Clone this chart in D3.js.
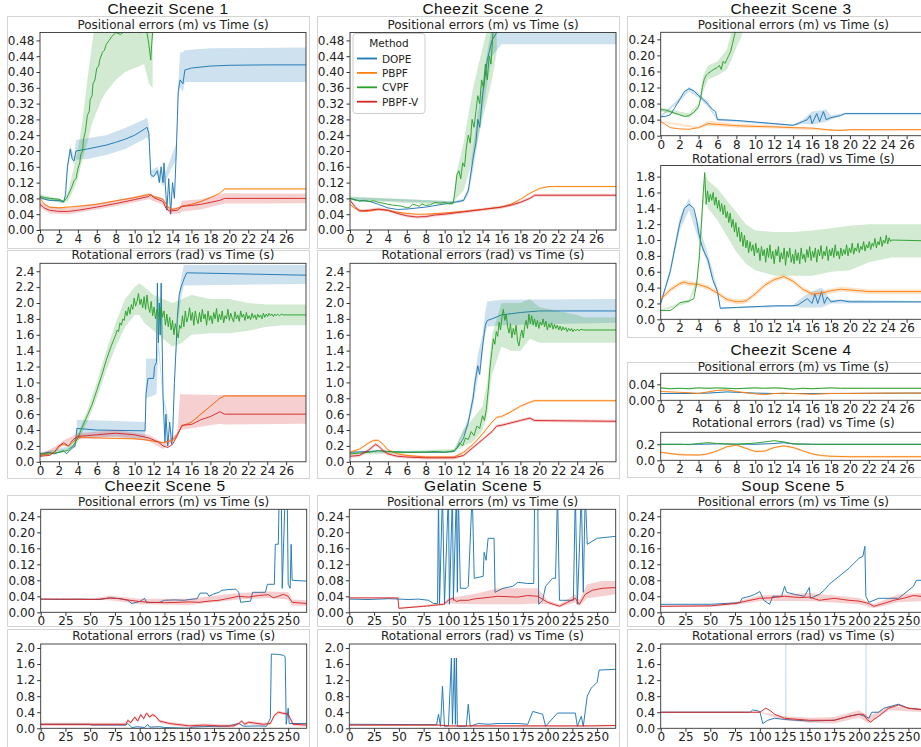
<!DOCTYPE html>
<html>
<head>
<meta charset="utf-8">
<script src="https://cdn.jsdelivr.net/npm/d3@7"></script>
<style>
  body { margin: 0; background: #fff; }
  svg { display: block; }
  .tick text { font-family: "DejaVu Sans", sans-serif; font-size: 12px; fill: #222; }
  .tick line { stroke: #333; }
  .domain { display: none; }
  .title { font-family: "Liberation Sans", Arial, sans-serif; font-size: 15.5px; letter-spacing: 0.5px; fill: #111; }
  .sub { font-family: "DejaVu Sans", sans-serif; font-size: 12px; fill: #222; }
  .leg { font-family: "DejaVu Sans", sans-serif; font-size: 10.5px; fill: #222; }
</style>
</head>
<body>
<div id="chart"></div>
<script>
/**
 * CONSTANTS
 * */
const width = 921, height = 747;
const methods = ["DOPE", "PBPF", "CVPF", "PBPF-V"];
const methodColors = ["#1f77b4", "#ff7f0e", "#2ca02c", "#d62728"];

// tick labels
const xTicksShort = [0, 2, 4, 6, 8, 10, 12, 14, 16, 18, 20, 22, 24, 26];
const xTicksLong = [0, 25, 50, 75, 100, 125, 150, 175, 200, 225, 250];
const posTicks48 = [0, 0.04, 0.08, 0.12, 0.16, 0.2, 0.24, 0.28, 0.32, 0.36, 0.4, 0.44, 0.48];
const posTicks24 = [0, 0.04, 0.08, 0.12, 0.16, 0.2, 0.24];
const posTicks04 = [0, 0.04];
const rotTicks24 = [0, 0.2, 0.4, 0.6, 0.8, 1.0, 1.2, 1.4, 1.6, 1.8, 2.0, 2.2, 2.4];
const rotTicks18 = [0, 0.2, 0.4, 0.6, 0.8, 1.0, 1.2, 1.4, 1.6, 1.8];
const rotTicks02 = [0, 0.2];
const rotTicks20 = [0, 0.4, 0.8, 1.2, 1.6, 2.0];

/**
 * DATA  (line: [time, mean], band: [time, low, high] or a half width)
 * */
// ---- Cheezit Scene 1, position
const s1PosDope = [[0,.082],[0.5,.078],[1,.075],[2,.075],[2.5,.071],[2.7,.09],[2.9,.16],[3.2,.205],[3.4,.18],[3.6,.175],[3.8,.2],[5,.205],[7,.215],[8,.222],[9,.23],[10,.24],[11,.255],[11.3,.26],[11.5,.245],[11.7,.14],[12,.135],[12.4,.15],[12.6,.12],[12.8,.16],[13,.12],[13.1,.17],[13.3,.09],[13.4,.05],[13.6,.13],[13.8,.04],[14,.12],[14.2,.08],[14.4,.2],[14.6,.35],[14.8,.38],[15.1,.37],[15.3,.405],[16,.41],[18,.415],[20,.417],[24,.418],[28.1,.418]];
const s1PosDopeBand = [[0,.078,.086],[2.5,.068,.075],[2.9,.15,.17],[3.2,.19,.215],[3.6,.165,.185],[3.8,.178,.228],[5,.18,.232],[7,.19,.24],[9,.205,.258],[11,.23,.28],[11.3,.235,.285],[11.5,.225,.265],[11.7,.13,.15],[12.4,.14,.16],[13,.11,.13],[14.4,.18,.22],[14.6,.33,.37],[14.8,.36,.45],[15.1,.35,.45],[15.3,.375,.455],[18,.375,.46],[28.1,.375,.462]];
const s1PosPbpf = [[0,.08],[0.5,.065],[1,.058],[2,.056],[3,.058],[4,.06],[6,.065],[8,.074],[10,.082],[11.5,.09],[12,.085],[13,.078],[13.5,.058],[14,.052],[14.5,.055],[15,.06],[16,.065],[17,.072],[18,.082],[19,.093],[19.5,.104],[28.1,.104]];
const s1PosCvpf = [[0,.085],[0.5,.082],[1,.08],[1.5,.079],[2,.078],[2.5,.072],[2.8,.08],[3,.09],[3.3,.105],[3.6,.125],[3.8,.13],[4,.155],[4.2,.17],[4.3,.19],[4.5,.2],[4.6,.23],[4.8,.25],[5,.29],[5.2,.3],[5.3,.33],[5.5,.34],[5.6,.37],[5.8,.38],[6,.41],[6.2,.415],[6.3,.43],[6.6,.45],[6.8,.455],[7,.47],[7.3,.48],[7.6,.49],[8,.5],[8.5,.495],[9,.505],[9.5,.5],[10,.51],[10.5,.5],[11,.505],[11.3,.5],[11.5,.47],[11.7,.43],[11.8,.47],[11.9,.5]];
const s1PosCvpfBand = [[0,.08,.09],[2.5,.068,.076],[3,.075,.1],[3.5,.1,.15],[4,.13,.2],[4.5,.18,.28],[5,.22,.38],[5.5,.27,.47],[6,.3,.55],[6.5,.33,.6],[7,.35,.62],[8,.38,.62],[9,.4,.62],[10,.41,.62],[11,.42,.62],[11.5,.37,.6],[11.9,.36,.6]];
const s1PosPbpfv = [[0,.065],[0.5,.055],[1,.05],[2,.047],[3,.047],[4,.05],[6,.058],[8,.067],[10,.077],[11.5,.085],[11.7,.09],[12,.082],[13,.072],[13.3,.055],[13.7,.048],[14.5,.05],[15,.06],[16,.062],[17,.065],[18,.07],[19,.075],[19.5,.08],[28.1,.08]];
const s1PosPbpfvBand = [[0,.057,.073],[1,.042,.058],[3,.04,.055],[8,.06,.075],[11.5,.078,.093],[13,.064,.08],[13.7,.04,.056],[14.8,.042,.058],[15,.047,.074],[17,.052,.078],[19.5,.067,.093],[28.1,.068,.092]];

// ---- Cheezit Scene 1, rotation
const s1RotDope = [[0,.1],[1,.12],[1.5,.1],[2,.12],[2.5,.14],[2.8,.1],[3.2,.15],[3.7,.2],[3.9,.42],[6,.4],[11.1,.39],[11.2,.85],[11.4,1.05],[12,1.05],[12.1,1.2],[12.3,1.25],[12.4,2.25],[12.5,1.5],[12.6,2.0],[12.7,1.6],[12.8,2.25],[13,.8],[13.2,.25],[13.3,.6],[13.5,.2],[13.7,.5],[13.9,.22],[14,.3],[14.2,1.0],[14.4,1.5],[14.5,1.8],[14.7,2.1],[14.9,2.2],[15.2,2.3],[15.5,2.38],[20,2.37],[28.1,2.35]];
const s1RotDopeBand = [[0,.09,.11],[3.8,.18,.22],[3.9,.32,.53],[11.1,.3,.5],[11.2,.8,1.3],[12.3,.85,1.3],[12.5,1.4,1.6],[13,.75,.85],[14,.28,.32],[14.5,1.7,1.9],[14.9,2.05,2.3],[15.2,2.22,2.48],[28.1,2.24,2.48]];
const s1RotPbpf = [[0,.08],[1,.1],[1.5,.12],[2,.18],[2.3,.22],[3,.2],[3.5,.25],[4,.3],[4.5,.31],[6,.3],[10,.29],[11,.28],[12,.26],[13,.24],[14,.27],[14.5,.35],[15,.45],[16,.5],[17,.6],[18,.7],[19,.8],[19.5,.83],[28.1,.83]];
const s1RotCvpf = [[0,.1],[1,.1],[2,.12],[2.5,.13],[3,.15],[3.5,.2],[4,.3],[4.5,.45],[5,.58],[5.5,.72],[6,.9],[6.5,1.08],[7,1.28],[7.5,1.45],[8,1.6],[8.15,1.66],[8.3,1.64],[8.45,1.75],[8.6,1.72],[8.75,1.8],[8.9,1.78],[9.05,1.9],[9.2,1.84],[9.35,1.95],[9.5,1.86],[9.65,1.98],[9.8,1.92],[9.95,2.06],[10.1,1.96],[10.25,2.02],[10.4,2.12],[10.55,1.98],[10.7,2.05],[10.85,1.94],[11,2.08],[11.15,1.92],[11.3,2.1],[11.45,1.95],[11.6,1.88],[11.75,2.02],[11.9,1.84],[12.05,1.95],[12.2,1.8],[12.35,1.92],[12.5,1.86],[12.65,1.78],[12.8,1.94],[12.95,1.82],[13.1,1.9],[13.25,1.72],[13.4,1.86],[13.55,1.7],[13.7,1.82],[13.85,1.66],[14,1.78],[14.15,1.6],[14.3,1.74],[14.45,1.64],[14.6,1.56],[14.75,1.72],[14.9,1.68],[15.05,1.84],[15.2,1.7],[15.35,1.9],[15.5,1.76],[15.65,1.82],[15.8,1.94],[15.95,1.78],[16.1,1.88],[16.25,1.72],[16.4,1.9],[16.55,1.8],[16.7,1.74],[16.85,1.88],[17,1.76],[17.15,1.92],[17.3,1.8],[17.45,1.86],[17.6,1.72],[17.75,1.9],[17.9,1.78],[18.05,1.84],[18.2,1.74],[18.35,1.88],[18.5,1.8],[18.65,1.93],[18.8,1.76],[18.95,1.86],[19.1,1.79],[19.25,1.9],[19.4,1.75],[19.55,1.84],[19.7,1.8],[19.85,1.92],[20,1.78],[20.15,1.87],[20.3,1.81],[20.45,1.76],[20.6,1.89],[20.75,1.8],[20.9,1.85],[21.05,1.77],[21.2,1.9],[21.35,1.82],[21.5,1.86],[21.65,1.78],[21.8,1.88],[21.95,1.8],[22.1,1.84],[22.25,1.79],[22.4,1.87],[22.55,1.81],[22.7,1.85],[22.85,1.79],[23,1.86],[23.15,1.82],[23.3,1.85],[23.45,1.8],[23.6,1.87],[23.75,1.82],[23.9,1.86],[24.05,1.83],[24.2,1.87],[24.35,1.84],[24.5,1.86],[24.65,1.83],[24.8,1.86],[24.95,1.84],[25.1,1.86],[25.3,1.84],[25.5,1.86],[25.7,1.85],[28.1,1.85]];
const s1RotCvpfBand = [[0,.08,.12],[3,.13,.17],[4,.25,.35],[5,.5,.65],[6,.8,1.0],[7,1.15,1.4],[8,1.45,1.75],[9,1.7,2.05],[10,1.85,2.2],[10.5,1.85,2.25],[11,1.75,2.2],[12,1.65,2.1],[13,1.55,2.05],[14,1.45,2.0],[15,1.5,2.05],[16,1.6,2.1],[18,1.62,2.05],[20,1.62,2.05],[22,1.65,2.0],[24,1.7,1.98],[25.7,1.72,1.98],[28.1,1.72,1.98]];
const s1RotPbpfv = [[0,.07],[1,.08],[1.5,.12],[2,.2],[2.5,.24],[3,.2],[3.5,.28],[4,.32],[5,.33],[6,.34],[8,.36],[10,.34],[11.5,.3],[12.5,.25],[13,.2],[13.5,.18],[14,.22],[14.5,.33],[15,.46],[16,.47],[17,.53],[18,.57],[19,.63],[19.5,.6],[28.1,.6]];
const s1RotPbpfvBand = [[0,.05,.09],[2,.18,.22],[2.5,.21,.27],[4,.28,.36],[8,.32,.4],[11.5,.26,.34],[13,.16,.24],[14.5,.3,.36],[14.8,.4,.85],[19,.48,.84],[19.5,.47,.84],[28.1,.48,.84]];

// ---- Cheezit Scene 2, position
const s2PosDope = [[0,.08],[1,.074],[2,.073],[3,.065],[4,.056],[5,.052],[6,.053],[8,.058],[10,.066],[11,.07],[12,.075],[12.5,.1],[13,.18],[13.3,.22],[13.5,.28],[13.7,.26],[14,.34],[14.5,.43],[15,.48],[15.5,.5],[16,.52],[17,.53],[28.1,.53]];
const s2PosDopeBand = [[0,.077,.083],[11,.067,.073],[12,.07,.08],[12.5,.09,.11],[13,.15,.21],[14,.3,.38],[15,.44,.52],[16,.47,.6],[28.1,.47,.6]];
const s2PosPbpf = [[0,.065],[0.5,.055],[1,.05],[1.5,.047],[2,.048],[3,.052],[4,.05],[5,.045],[6,.042],[7,.04],[8,.04],[10,.043],[12,.047],[14,.052],[16,.058],[17,.065],[18,.078],[19,.093],[20,.105],[21,.11],[28.1,.11]];
const s2PosCvpf = [[0,.08],[0.5,.076],[1,.073],[1.5,.075],[2,.072],[2.5,.074],[3,.07],[3.5,.068],[4,.065],[4.5,.063],[5,.062],[5.5,.06],[6,.056],[6.3,.058],[6.6,.065],[7,.063],[7.3,.06],[7.6,.066],[8,.062],[8.5,.064],[9,.07],[9.5,.068],[10,.07],[10.5,.066],[10.9,.068],[11.1,.1],[11.3,.14],[11.5,.15],[11.7,.13],[11.9,.17],[12.1,.16],[12.3,.21],[12.5,.24],[12.7,.22],[12.9,.28],[13.1,.26],[13.3,.3],[13.5,.34],[13.7,.32],[13.9,.38],[14.1,.36],[14.3,.42],[14.5,.38],[14.7,.44],[14.9,.42],[15.1,.5],[15.3,.52],[15.5,.56]];
const s2PosCvpfBand = [[0,.075,.085],[10.9,.063,.073],[11.2,.08,.14],[12,.1,.22],[13,.18,.36],[14,.28,.46],[15,.38,.56],[15.5,.45,.6]];
const s2PosPbpfv = [[0,.075],[0.5,.06],[1,.048],[2,.05],[3,.053],[4,.05],[5,.042],[6,.036],[7,.033],[8,.034],[9,.038],[10,.04],[12,.046],[14,.052],[16,.058],[17,.063],[18,.07],[19,.08],[19.5,.088],[28.1,.088]];

// ---- Cheezit Scene 2, rotation
const s2RotDope = [[0,.12],[2,.13],[3,.14],[4,.13],[6,.12],[8,.12],[10,.12],[11,.13],[11.5,.2],[12,.3],[12.5,.5],[13,.8],[13.2,1.0],[13.5,1.21],[13.7,1.1],[14,1.45],[14.3,1.72],[14.5,1.78],[15,1.8],[16,1.85],[18,1.88],[20,1.9],[28.1,1.9]];
const s2RotDopeBand = [[0,.11,.13],[11,.12,.14],[12.5,.45,.55],[13,.7,.9],[13.5,1.05,1.35],[14,1.35,1.6],[14.3,1.62,1.9],[14.5,1.7,2.02],[16,1.72,2.04],[28.1,1.75,2.05]];
const s2RotPbpf = [[0,.12],[1,.16],[2,.24],[2.5,.27],[3,.27],[3.5,.22],[4,.15],[5,.1],[6,.08],[8,.06],[10,.06],[11,.06],[12,.12],[13,.22],[14,.35],[15,.5],[15.5,.56],[16,.57],[17,.63],[18,.7],[19,.75],[19.5,.77],[28.1,.77]];
const s2RotCvpf = [[0,.1],[1,.11],[2,.12],[3,.14],[4,.13],[5,.12],[6,.12],[7,.12],[8,.12],[9,.13],[10,.12],[11,.14],[11.3,.18],[11.6,.24],[11.9,.2],[12.2,.3],[12.5,.28],[12.8,.38],[13.1,.33],[13.4,.45],[13.7,.42],[14,.58],[14.2,.52],[14.4,.66],[14.6,.9],[14.8,1.2],[15,1.4],[15.15,1.55],[15.3,1.48],[15.45,1.64],[15.6,1.58],[15.75,1.76],[15.9,1.66],[16.05,1.82],[16.2,1.92],[16.35,1.78],[16.5,1.86],[16.65,1.7],[16.8,1.62],[16.95,1.74],[17.1,1.56],[17.25,1.68],[17.4,1.6],[17.55,1.72],[17.7,1.52],[17.85,1.46],[18,1.58],[18.15,1.66],[18.3,1.56],[18.45,1.7],[18.6,1.78],[18.75,1.68],[18.9,1.86],[19.05,1.74],[19.2,1.84],[19.35,1.72],[19.5,1.8],[19.65,1.7],[19.8,1.78],[19.95,1.68],[20.1,1.76],[20.25,1.72],[20.4,1.8],[20.55,1.7],[20.7,1.77],[20.85,1.66],[21,1.74],[21.15,1.69],[21.3,1.75],[21.45,1.67],[21.6,1.73],[21.75,1.68],[21.9,1.72],[22.05,1.66],[22.2,1.71],[22.35,1.65],[22.5,1.7],[22.65,1.66],[22.8,1.69],[22.95,1.64],[23.1,1.68],[23.25,1.65],[23.4,1.68],[23.55,1.64],[23.7,1.67],[23.85,1.65],[24,1.67],[24.2,1.65],[24.4,1.67],[24.7,1.66],[28.1,1.66]];
const s2RotCvpfBand = [[0,.09,.11],[11,.12,.16],[12,.2,.4],[13,.25,.55],[14,.4,.7],[14.5,.6,1.0],[15,1.1,1.6],[16,1.45,2.0],[17,1.4,2.0],[18,1.4,2.0],[19,1.55,2.05],[20,1.5,1.95],[22,1.5,1.9],[24,1.5,1.85],[24.7,1.5,1.82],[28.1,1.5,1.82]];
const s2RotPbpfv = [[0,.07],[1,.08],[2,.15],[2.7,.22],[3,.2],[3.5,.14],[4,.1],[5,.07],[6,.06],[8,.05],[10,.05],[11,.05],[12,.08],[13,.18],[14,.28],[15,.38],[15.5,.45],[16,.46],[17,.49],[18,.52],[19,.55],[19.5,.52],[28.1,.51]];

// ---- Cheezit Scene 3, position
const s3PosDope = [[0,.047],[0.5,.048],[1,.052],[1.5,.07],[2,.09],[2.5,.11],[3,.117],[3.5,.112],[4,.1],[4.5,.09],[5,.078],[5.5,.065],[5.8,.06],[6,.04],[8,.038],[10,.034],[12,.03],[14,.026],[14.5,.03],[15,.035],[15.5,.04],[15.8,.05],[16,.03],[16.5,.055],[16.8,.035],[17.2,.06],[17.5,.04],[18,.045],[19,.05],[19.5,.055],[28.1,.055]];
const s3PosDopeBand = [[0,.045,.05],[2,.085,.095],[3,.11,.122],[4,.094,.106],[5,.072,.085],[6,.037,.043],[14,.024,.028],[15,.03,.04],[16,.028,.06],[17.5,.035,.065],[18,.04,.05],[19.5,.053,.057],[28.1,.053,.057]];
const s3PosPbpf = [[0,.035],[0.5,.028],[1,.02],[2,.017],[3,.016],[4,.02],[5,.03],[6,.028],[8,.025],[10,.023],[12,.022],[14,.02],[16,.019],[18,.014],[19,.013],[20,.015],[28.1,.015]];
const s3PosPbpfBand = [[0,.033,.037],[4,.017,.023],[5,.025,.037],[8,.02,.03],[12,.018,.026],[18,.012,.016],[28.1,.013,.017]];
const s3PosCvpf = [[0,.065],[0.5,.064],[1,.06],[1.5,.056],[2,.052],[2.5,.048],[3,.05],[3.5,.058],[4,.072],[4.2,.09],[4.4,.12],[4.6,.14],[4.8,.15],[5,.155],[5.3,.16],[5.6,.165],[6,.17],[6.2,.175],[6.4,.165],[6.6,.185],[6.8,.18],[7,.19],[7.2,.2],[7.4,.21],[7.6,.23],[7.8,.25],[8,.27]];
const s3PosCvpfBand = [[0,.06,.07],[3,.045,.055],[4,.065,.08],[4.5,.11,.15],[5,.14,.175],[6,.15,.185],[7,.165,.215],[7.5,.19,.26],[8,.22,.3],[8.6,.25,.33]];

// ---- Cheezit Scene 3, rotation
const s3RotDope = [[0,.2],[0.5,.4],[1,.6],[1.5,.9],[2,1.2],[2.5,1.4],[3,1.45],[3.5,1.4],[3.8,1.25],[4,1.1],[4.3,.95],[4.6,.85],[5,.75],[5.5,.5],[6,.35],[6.3,.14],[8,.15],[10,.16],[12,.17],[14,.17],[14.5,.18],[15,.22],[15.5,.26],[16,.2],[16.3,.32],[16.6,.2],[17,.35],[17.3,.2],[17.6,.28],[18,.22],[19,.24],[20,.22],[28.1,.22]];
const s3RotDopeBand = [[0,.18,.22],[1,.55,.65],[2,1.12,1.28],[3,1.38,1.53],[4,1.0,1.2],[5,.68,.82],[6,.3,.4],[6.3,.13,.15],[14,.16,.18],[15,.15,.28],[16,.15,.35],[17,.15,.4],[18,.2,.25],[28.1,.21,.23]];
const s3RotPbpf = [[0,.25],[1,.37],[2,.45],[2.5,.47],[3,.45],[4,.44],[5,.4],[6,.33],[7,.25],[8,.22],[9,.23],[10,.32],[11,.43],[12,.5],[13,.54],[14,.48],[15,.38],[16,.32],[17,.33],[18,.36],[19,.38],[20,.37],[22,.35],[28.1,.35]];
const s3RotCvpf = [[0,.11],[1,.11],[1.5,.15],[2,.21],[2.5,.22],[3,.23],[3.5,.26],[3.8,.45],[4.1,.8],[4.3,1.2],[4.5,1.6],[4.65,1.85],[4.8,1.45],[4.95,1.62],[5.1,1.48],[5.25,1.58],[5.4,1.5],[5.55,1.6],[5.7,1.44],[5.85,1.54],[6,1.4],[6.15,1.5],[6.3,1.36],[6.45,1.46],[6.6,1.32],[6.75,1.44],[6.9,1.28],[7.05,1.36],[7.2,1.22],[7.35,1.34],[7.5,1.16],[7.65,1.26],[7.8,1.1],[7.95,1.22],[8.1,1.04],[8.25,1.16],[8.4,.98],[8.55,1.1],[8.7,.92],[8.85,1.06],[9,.9],[9.15,1.0],[9.3,.84],[9.45,.98],[9.6,.86],[9.75,.94],[9.9,.8],[10.05,.96],[10.2,.84],[10.35,.9],[10.5,.74],[10.65,.92],[10.8,.8],[10.95,.88],[11.1,.72],[11.25,.9],[11.4,.78],[11.55,.94],[11.7,.76],[11.85,.86],[12,.7],[12.15,.88],[12.3,.8],[12.45,.92],[12.6,.72],[12.75,.84],[12.9,.76],[13.05,.9],[13.2,.68],[13.35,.86],[13.5,.78],[13.65,.9],[13.8,.72],[13.95,.82],[14.1,.7],[14.25,.88],[14.4,.74],[14.55,.84],[14.7,.7],[14.85,.9],[15,.76],[15.15,.82],[15.3,.72],[15.45,.88],[15.6,.78],[15.75,.92],[15.9,.74],[16.05,.86],[16.2,.78],[16.35,.9],[16.5,.72],[16.65,.88],[16.8,.8],[16.95,.93],[17.1,.76],[17.25,.86],[17.4,.8],[17.55,.92],[17.7,.74],[17.85,.88],[18,.8],[18.15,.9],[18.3,.78],[18.45,.94],[18.6,.8],[18.75,.86],[18.9,.76],[19.05,.9],[19.2,.8],[19.35,.88],[19.5,.82],[19.65,.94],[19.8,.8],[19.95,.9],[20.1,.84],[20.25,.96],[20.4,.82],[20.55,.9],[20.7,.86],[20.85,.96],[21,.84],[21.15,.92],[21.3,.88],[21.45,.98],[21.6,.86],[21.75,.94],[21.9,.9],[22.05,.98],[22.2,.88],[22.35,.96],[22.5,.92],[22.65,1.02],[22.8,.9],[22.95,.98],[23.1,.94],[23.25,1.04],[23.4,.92],[23.55,1.0],[23.7,.96],[23.85,1.06],[24,.95],[24.15,1.03],[24.3,.98],[24.4,1.0],[28.1,.99]];
const s3RotCvpfBand = [[0,.1,.12],[3,.21,.25],[3.8,.4,.5],[4.3,1.1,1.3],[4.65,1.6,1.85],[5,1.4,1.75],[6,1.25,1.65],[7,1.05,1.5],[8,.85,1.35],[9,.7,1.2],[10,.62,1.12],[12,.55,1.1],[14,.55,1.1],[16,.55,1.12],[18,.6,1.15],[20,.62,1.18],[22,.72,1.2],[24.4,.78,1.2],[28.1,.78,1.2]];

// ---- Cheezit Scene 4
const s4PosDope = [[0,.017],[3,.017],[5,.018],[7,.021],[8,.02],[10,.018],[12,.017],[16,.017],[28.1,.018]];
const s4PosPbpf = [[0,.022],[1,.021],[2,.02],[3,.019],[4,.017],[5,.021],[6,.025],[7,.026],[8,.022],[9,.019],[10,.016],[11,.014],[12,.017],[13,.018],[14,.017],[15,.016],[16,.015],[17,.016],[18,.017],[20,.017],[24,.018],[28.1,.018]];
const s4PosCvpf = [[0,.031],[1,.029],[2,.03],[3,.029],[4,.031],[5,.03],[6,.031],[7,.03],[8,.029],[9,.03],[10,.031],[11,.03],[12,.031],[13,.03],[14,.028],[15,.03],[16,.029],[17,.03],[18,.031],[19,.03],[20,.03],[22,.03],[28.1,.03]];
const s4RotDope = [[0,.2],[4,.2],[6,.205],[10,.2],[12,.21],[13,.22],[14,.205],[16,.2],[28.1,.2]];
const s4RotPbpf = [[0,.1],[1,.085],[2,.07],[4,.065],[5,.08],[6,.12],[7,.17],[8,.19],[9,.15],[10,.11],[11,.115],[12,.16],[13,.18],[14,.16],[15,.12],[16,.08],[17,.06],[18,.05],[20,.045],[28.1,.045]];
const s4RotCvpf = [[0,.2],[2,.2],[3,.195],[4,.21],[5,.22],[6,.21],[8,.2],[10,.215],[12,.245],[13,.23],[14,.205],[16,.2],[28.1,.2]];

// ---- Cheezit Scene 5
const c5PosDope = [[0,.033],[20,.032],[40,.033],[60,.032],[70,.036],[80,.034],[88,.03],[92,.022],[100,.027],[105,.035],[107,.024],[120,.025],[125,.03],[135,.031],[145,.03],[150,.032],[158,.034],[161,.048],[168,.048],[170,.04],[175,.046],[180,.05],[183,.055],[190,.057],[197,.058],[200,.05],[202,.025],[212,.028],[214,.05],[227,.05],[229,.07],[236,.07],[237,.17],[240,.17],[241,.3],[243,.3],[244,.06],[247,.3],[249,.3],[250,.07],[252,.06],[253,.17],[254,.08],[268.7,.078]];
const c5PosPbpfv = [[0,.033],[25,.033],[50,.032],[60,.033],[70,.036],[80,.034],[90,.03],[100,.027],[110,.025],[125,.024],[140,.025],[150,.026],[160,.025],[170,.028],[180,.03],[190,.035],[200,.04],[210,.038],[220,.042],[230,.044],[235,.036],[240,.04],[245,.045],[250,.04],[254,.025],[268.7,.022]];
const c5PosPbpfvBand = [[0,.032,.034],[55,.031,.035],[70,.03,.042],[100,.02,.034],[150,.018,.034],[200,.032,.048],[230,.036,.052],[250,.032,.05],[254,.017,.032],[268.7,.016,.03]];
const c5RotDope = [[0,.1],[50,.1],[51,.08],[86,.08],[88,.12],[92,.02],[98,.04],[105,.02],[108,.1],[110,.03],[120,.04],[125,.02],[150,0],[153,.03],[175,.05],[190,.05],[193,.08],[200,.12],[205,.05],[220,.06],[228,.05],[232,.25],[233,1.85],[240,1.84],[245,1.82],[246.5,1.8],[247,1.75],[248,.1],[250,.5],[251,.12],[268.7,.12]];
const c5RotPbpfv = [[0,.1],[86,.1],[88,.2],[91,.14],[95,.28],[98,.18],[101,.34],[104,.24],[107,.38],[110,.28],[113,.34],[116,.3],[120,.18],[130,.12],[150,.06],[165,.08],[180,.06],[195,.06],[200,.12],[203,.18],[206,.1],[210,.15],[225,.1],[232,.12],[236,.32],[240,.4],[250,.35],[255,.1],[268.7,.08]];

// ---- Gelatin Scene 5
const g5PosDope = [[0,.033],[20,.032],[40,.034],[60,.032],[70,.033],[80,.03],[85,.022],[89,.022],[90,.3],[91,.02],[94,.3],[96,.02],[100,.3],[101,.02],[104,.3],[105,.03],[108,.3],[109,.05],[110,.3],[112,.06],[118,.06],[120,.065],[124,.3],[126,.085],[135,.09],[136,.15],[138,.13],[140,.185],[146,.185],[147,.05],[155,.06],[165,.065],[170,.075],[180,.072],[186,.072],[187,.3],[190,.3],[191,.02],[195,.03],[198,.065],[205,.085],[208,.085],[210,.3],[212,.03],[226,.03],[228,.3],[230,.02],[232,.15],[234,.3],[236,.05],[238,.3],[240,.17],[250,.185],[268.7,.19]];
const g5PosPbpfv = [[0,.036],[49,.036],[50,.01],[75,.015],[95,.02],[100,.03],[104,.035],[108,.027],[112,.03],[120,.03],[125,.033],[150,.04],[170,.038],[180,.042],[190,.04],[200,.025],[212,.015],[220,.025],[228,.035],[232,.02],[238,.045],[245,.055],[255,.06],[268.7,.062]];
const g5PosPbpfvBand = [[0,.035,.037],[49,.035,.037],[50,.008,.012],[95,.017,.023],[100,.022,.036],[125,.02,.045],[150,.02,.06],[175,.02,.06],[190,.022,.06],[200,.02,.03],[212,.012,.02],[228,.025,.045],[232,.015,.03],[240,.035,.07],[255,.04,.078],[268.7,.045,.078]];
const g5RotDope = [[0,.1],[88,.09],[90,.35],[92,.05],[94,1.05],[96,.05],[100,.06],[103,1.75],[104,.1],[106,1.75],[107,.1],[108,1.75],[109,.05],[118,.05],[120,.6],[122,.05],[130,.12],[140,.1],[150,.12],[170,.12],[180,.1],[185,.42],[195,.35],[198,.05],[210,.38],[228,.38],[230,.05],[234,.3],[236,.05],[240,.8],[244,1.0],[250,1.15],[252,1.45],[268.7,1.47]];
const g5RotPbpfv = [[0,.08],[90,.08],[100,.06],[150,.06],[200,.06],[240,.06],[268.7,.07]];

// ---- Soup Scene 5
const p5PosDope = [[0,.02],[50,.02],[80,.024],[82,.035],[90,.04],[95,.045],[100,.052],[104,.03],[110,.02],[113,.04],[122,.04],[125,.065],[127,.05],[135,.045],[145,.04],[150,.062],[151,.035],[160,.045],[165,.055],[170,.07],[180,.09],[190,.11],[200,.135],[204,.14],[206,.165],[207,.04],[210,.025],[220,.035],[240,.035],[245,.045],[255,.065],[258,.08],[268.7,.08]];
const p5PosPbpfv = [[0,.015],[50,.016],[75,.022],[90,.03],[100,.035],[110,.036],[125,.04],[140,.037],[150,.038],[160,.03],[175,.035],[190,.03],[200,.028],[210,.022],[215,.015],[225,.022],[235,.03],[245,.035],[255,.042],[268.7,.038]];
const p5PosPbpfvBand = [[0,.013,.017],[50,.014,.018],[75,.018,.026],[100,.028,.042],[150,.028,.048],[200,.02,.036],[215,.01,.02],[240,.025,.045],[268.7,.028,.048]];
const p5RotDope = [[0,.4],[90,.4],[93,.46],[100,.42],[103,.12],[108,.2],[115,.25],[125,.22],[150,.18],[175,.2],[190,.3],[200,.35],[206,.3],[210,.25],[213,.4],[220,.4],[225,.5],[240,.6],[250,.5],[268.7,.45]];
const p5RotDopeBand = [[0,.4,.4],[125.4,.22,.22],[125.6,.22,2.2],[126.8,.22,2.2],[127,.22,.22],[206.4,.3,.3],[206.6,.3,2.2],[207.8,.3,2.2],[208,.3,.3],[268.7,.45,.45]];
const p5RotPbpfv = [[0,.4],[100,.4],[106,.5],[110,.45],[115,.35],[125,.25],[150,.2],[175,.2],[190,.3],[200,.35],[205,.35],[208,.22],[212,.15],[215,.22],[220,.3],[230,.5],[240,.58],[250,.5],[268.7,.45]];
const p5RotPbpfvBand = [[0,.39,.41],[100,.39,.41],[125,.2,.3],[150,.14,.26],[175,.12,.28],[200,.27,.45],[210,.12,.3],[230,.45,.55],[268.7,.4,.5]];

/**
 * LAYOUT
 * */
const frames = [
  [7, 16, 309, 248], [7, 250, 309, 478], [317, 16, 619, 248], [317, 250, 619, 478],
  [627, 16, 930, 337], [627, 362, 930, 477],
  [7, 495, 309, 626], [7, 629, 309, 760], [317, 495, 619, 626], [317, 629, 619, 760],
  [627, 495, 930, 626], [627, 629, 930, 760]
];
const titles = [
  ["Cheezit Scene 1", 168, 14.3], ["Cheezit Scene 2", 483, 14.3], ["Cheezit Scene 3", 791, 14.3],
  ["Cheezit Scene 4", 791, 354.5], ["Cheezit Scene 5", 165, 491], ["Gelatin Scene 5", 483, 491], ["Soup Scene 5", 793, 491]
];
const POS = "Positional errors (m) vs Time (s)", ROT = "Rotational errors (rad) vs Time (s)";

const panels = [
  { sub: POS, l: 40, r: 306, t: 32.5, b: 230, sy: 29, xMax: 28.1, yMax: 0.5, xt: xTicksShort, yt: posTicks48, f: ".2f",
    series: [["DOPE", s1PosDope, s1PosDopeBand], ["PBPF", s1PosPbpf, 0.002], ["CVPF", s1PosCvpf, s1PosCvpfBand], ["PBPF-V", s1PosPbpfv, s1PosPbpfvBand]] },
  { sub: ROT, l: 40, r: 306, t: 263.3, b: 461.8, sy: 258.8, xMax: 28.1, yMax: 2.5, xt: xTicksShort, yt: rotTicks24, f: ".1f",
    series: [["DOPE", s1RotDope, s1RotDopeBand], ["PBPF", s1RotPbpf, 0.01], ["CVPF", s1RotCvpf, s1RotCvpfBand], ["PBPF-V", s1RotPbpfv, s1RotPbpfvBand]] },
  { sub: POS, l: 350, r: 616, t: 32.5, b: 230, sy: 29, xMax: 28.1, yMax: 0.5, xt: xTicksShort, yt: posTicks48, f: ".2f", legend: true,
    series: [["DOPE", s2PosDope, s2PosDopeBand], ["PBPF", s2PosPbpf, 0.002], ["CVPF", s2PosCvpf, s2PosCvpfBand], ["PBPF-V", s2PosPbpfv, 0.004]] },
  { sub: ROT, l: 350, r: 616, t: 263.3, b: 461.8, sy: 258.8, xMax: 28.1, yMax: 2.5, xt: xTicksShort, yt: rotTicks24, f: ".1f",
    series: [["DOPE", s2RotDope, s2RotDopeBand], ["PBPF", s2RotPbpf, 0.015], ["CVPF", s2RotCvpf, s2RotCvpfBand], ["PBPF-V", s2RotPbpfv, 0.02]] },
  { sub: POS, l: 660.7, r: 926.5, t: 32.3, b: 135.7, sy: 29, xMax: 28.1, yMax: 0.2575, xt: xTicksShort, yt: posTicks24, f: ".2f",
    series: [["DOPE", s3PosDope, s3PosDopeBand], ["PBPF", s3PosPbpf, s3PosPbpfBand], ["CVPF", s3PosCvpf, s3PosCvpfBand]] },
  { sub: ROT, l: 660.7, r: 926.5, t: 165.5, b: 319.3, sy: 162.5, xMax: 28.1, yMax: 1.94, xt: xTicksShort, yt: rotTicks18, f: ".1f",
    series: [["DOPE", s3RotDope, s3RotDopeBand], ["PBPF", s3RotPbpf, 0.03], ["CVPF", s3RotCvpf, s3RotCvpfBand]] },
  { sub: POS, l: 660.7, r: 926.5, t: 373.3, b: 400.3, sy: 370.5, xMax: 28.1, yMax: 0.0675, xt: xTicksShort, yt: posTicks04, f: ".2f",
    series: [["DOPE", s4PosDope, 0.001], ["PBPF", s4PosPbpf, 0.001], ["CVPF", s4PosCvpf, 0.002]] },
  { sub: ROT, l: 660.7, r: 926.5, t: 432.3, b: 460.3, sy: 427, xMax: 28.1, yMax: 0.35, xt: xTicksShort, yt: rotTicks02, f: ".1f",
    series: [["DOPE", s4RotDope, 0.003], ["PBPF", s4RotPbpf, 0.012], ["CVPF", s4RotCvpf, 0.004]] },
  { sub: POS, l: 40.7, r: 306.7, t: 509.3, b: 612.3, sy: 506, xMax: 268.7, yMax: 0.2575, xt: xTicksLong, yt: posTicks24, f: ".2f",
    series: [["DOPE", c5PosDope, 0], ["PBPF-V", c5PosPbpfv, c5PosPbpfvBand]] },
  { sub: ROT, l: 40.7, r: 306.7, t: 644, b: 728.3, sy: 639.5, xMax: 268.7, yMax: 2.1, xt: xTicksLong, yt: rotTicks20, f: ".1f",
    series: [["DOPE", c5RotDope, 0], ["PBPF-V", c5RotPbpfv, 0.04]] },
  { sub: POS, l: 349.3, r: 615.7, t: 509.3, b: 612.3, sy: 506, xMax: 268.7, yMax: 0.2575, xt: xTicksLong, yt: posTicks24, f: ".2f",
    series: [["DOPE", g5PosDope, 0], ["PBPF-V", g5PosPbpfv, g5PosPbpfvBand]] },
  { sub: ROT, l: 349.3, r: 615.7, t: 644, b: 728.3, sy: 639.5, xMax: 268.7, yMax: 2.1, xt: xTicksLong, yt: rotTicks20, f: ".1f",
    series: [["DOPE", g5RotDope, 0], ["PBPF-V", g5RotPbpfv, 0.02]] },
  { sub: POS, l: 660.7, r: 927, t: 509.3, b: 612.3, sy: 506, xMax: 268.7, yMax: 0.2575, xt: xTicksLong, yt: posTicks24, f: ".2f",
    series: [["DOPE", p5PosDope, 0], ["PBPF-V", p5PosPbpfv, p5PosPbpfvBand]] },
  { sub: ROT, l: 660.7, r: 927, t: 644, b: 728.3, sy: 639.5, xMax: 268.7, yMax: 2.1, xt: xTicksLong, yt: rotTicks20, f: ".1f",
    series: [["DOPE", p5RotDope, p5RotDopeBand], ["PBPF-V", p5RotPbpfv, p5RotPbpfvBand]] }
];

const colorScale = d3.scaleOrdinal().domain(methods).range(methodColors);

const svg = d3.select("#chart").append("svg")
  .attr("width", width)
  .attr("height", height);

svg.append("rect").attr("width", width).attr("height", height).attr("fill", "#fff");

// light frames round every sub-figure
svg.selectAll(".frame")
  .data(frames)
  .join("rect")
  .attr("class", "frame")
  .attr("x", d => d[0] + 0.5)
  .attr("y", d => d[1] + 0.5)
  .attr("width", d => d[2] - d[0])
  .attr("height", d => d[3] - d[1])
  .attr("fill", "none")
  .attr("stroke", "#d4d4d4")
  .attr("stroke-width", 1);

svg.selectAll(".title")
  .data(titles)
  .join("text")
  .attr("class", "title")
  .attr("x", d => d[1])
  .attr("y", d => d[2])
  .attr("text-anchor", "middle")
  .text(d => d[0]);

panels.forEach((p, i) => drawPanel(p, i));

function drawPanel(p, i) {
  const x = d3.scaleLinear().domain([0, p.xMax]).range([p.l, p.r]);
  const y = d3.scaleLinear().domain([0, p.yMax]).range([p.b, p.t]);

  svg.append("clipPath").attr("id", "clip" + i)
    .append("rect")
    .attr("x", p.l).attr("y", p.t)
    .attr("width", p.r - p.l).attr("height", p.b - p.t);

  const g = svg.append("g").attr("clip-path", `url(#clip${i})`);

  const area = d3.area().x(d => x(d[0])).y0(d => y(d[1])).y1(d => y(d[2]));
  const line = d3.line().x(d => x(d[0])).y(d => y(d[1]));

  p.series.forEach(([m, pts, band]) => {
    const c = colorScale(m);
    let b = band;
    if (typeof b === "number") b = b > 0 ? pts.map(d => [d[0], d[1] - band, d[1] + band]) : null;
    if (b) {
      g.append("path").datum(b)
        .attr("d", area)
        .attr("fill", c)
        .attr("fill-opacity", 0.22);
    }
    g.append("path").datum(pts)
      .attr("d", line)
      .attr("fill", "none")
      .attr("stroke", c)
      .attr("stroke-width", 1)
      .attr("stroke-linejoin", "round")
      .attr("stroke-opacity", 0.95);
  });

  // axes
  svg.append("g")
    .attr("transform", `translate(${p.l},0)`)
    .call(d3.axisLeft(y).tickValues(p.yt).tickFormat(d3.format(p.f)).tickSize(3.5).tickPadding(2));
  svg.append("g")
    .attr("transform", `translate(0,${p.b})`)
    .call(d3.axisBottom(x).tickValues(p.xt).tickFormat(d3.format("d")).tickSize(3.5).tickPadding(1));

  svg.append("rect")
    .attr("x", p.l).attr("y", p.t)
    .attr("width", p.r - p.l).attr("height", p.b - p.t)
    .attr("fill", "none")
    .attr("stroke", "#333")
    .attr("stroke-width", 0.9);

  svg.append("text")
    .attr("class", "sub")
    .attr("x", (p.l + Math.min(p.r, 926)) / 2)
    .attr("y", p.sy)
    .attr("text-anchor", "middle")
    .text(p.sub);

  if (p.legend) drawLegend(p.l + 3, p.t + 1);
}

function drawLegend(lx, ly) {
  const lg = svg.append("g").attr("transform", `translate(${lx},${ly})`);
  lg.append("rect")
    .attr("width", 72).attr("height", 80).attr("rx", 3)
    .attr("fill", "#fff").attr("fill-opacity", 0.85)
    .attr("stroke", "#ccc");
  lg.append("text").attr("class", "leg")
    .attr("x", 36).attr("y", 13).attr("text-anchor", "middle").text("Method");
  const rows = lg.selectAll(".row").data(methods).join("g")
    .attr("transform", (d, k) => `translate(0,${25 + k * 14.4})`);
  rows.append("line")
    .attr("x1", 4).attr("x2", 24)
    .attr("stroke", d => colorScale(d)).attr("stroke-width", 1.8);
  rows.append("text").attr("class", "leg")
    .attr("x", 29).attr("y", 4).text(d => d);
}
</script>
</body>
</html>
